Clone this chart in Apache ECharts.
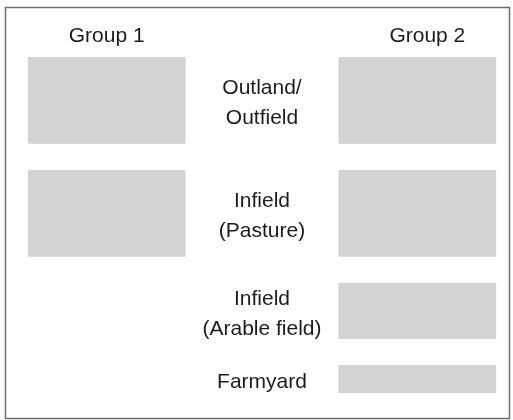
<!DOCTYPE html>
<html>
<head>
<meta charset="utf-8">
<script src="https://cdn.jsdelivr.net/npm/echarts@6/dist/echarts.min.js"></script>
<style>
  html, body { margin: 0; padding: 0; background: #fff; }
  #main { width: 513px; height: 420px; }
</style>
</head>
<body>
<div id="main"></div>
<script>
// 数据
var groups = ['Group 1', '', 'Group 2'];
var zones = ['Outland/\nOutfield', 'Infield\n(Pasture)', 'Infield\n(Arable field)', 'Farmyard'];
var zoneSize = [3.1, 3.1, 2, 1];  // relative height of each zone
var group1 = [1, 1, 0, 0];        // zone present in group 1
var group2 = [1, 1, 1, 1];        // zone present in group 2
var gap = 0.93;

// zone extents on the y value axis
var zoneStart = [], zoneEnd = [];
var acc = 0;
for (var i = 0; i < zoneSize.length; i++) {
    zoneStart.push(acc);
    zoneEnd.push(acc + zoneSize[i]);
    acc += zoneSize[i] + gap;
}
var total = acc - gap;

var boxes = [];
group1.forEach(function (v, i) { if (v) boxes.push([0, i]); });
group2.forEach(function (v, i) { if (v) boxes.push([2, i]); });
var labels = zones.map(function (z, i) { return [1, i]; });

var myChart = echarts.init(document.getElementById('main'));

var option = {
    animation: false,
    grid: { left: 29, right: 18, top: 57, bottom: 27 },
    graphic: [{
        type: 'rect',
        shape: { x: 5.5, y: 7.5, width: 504, height: 411 },
        style: { fill: 'none', stroke: '#6e6e6e', lineWidth: 1.5 },
        z: 10
    }],
    xAxis: {
        type: 'category',
        position: 'top',
        data: [
            groups[0],
            groups[1],
            { value: groups[2], textStyle: { padding: [0, 0, 0, 20] } }
        ],
        axisLine: { show: false },
        axisTick: { show: false },
        splitLine: { show: false },
        axisLabel: {
            margin: 10,
            fontFamily: 'Liberation Sans, Arial, sans-serif',
            fontSize: 21,
            color: '#1c1c1c'
        }
    },
    yAxis: {
        type: 'value',
        inverse: true,
        min: 0,
        max: total,
        show: false
    },
    series: [{
        name: 'boxes',
        type: 'custom',
        data: boxes,
        renderItem: function (params, api) {
            var col = api.value(0), z = api.value(1);
            var p0 = api.coord([col, zoneStart[z]]);
            var p1 = api.coord([col, zoneEnd[z]]);
            var w = api.size([1, 0])[0] * 1.015;
            return {
                type: 'rect',
                shape: { x: p0[0] - w / 2, y: p0[1], width: w, height: p1[1] - p0[1] },
                style: { fill: '#d3d3d3' }
            };
        }
    }, {
        name: 'zones',
        type: 'custom',
        data: labels,
        renderItem: function (params, api) {
            var col = api.value(0), z = api.value(1);
            var p = api.coord([col, (zoneStart[z] + zoneEnd[z]) / 2]);
            return {
                type: 'text',
                x: p[0],
                y: p[1] + 3,
                style: {
                    text: zones[z],
                    align: 'center',
                    verticalAlign: 'middle',
                    fontFamily: 'Liberation Sans, Arial, sans-serif',
                    fontSize: 21,
                    lineHeight: 30,
                    fill: '#1c1c1c'
                }
            };
        }
    }]
};

myChart.setOption(option);
</script>
</body>
</html>
